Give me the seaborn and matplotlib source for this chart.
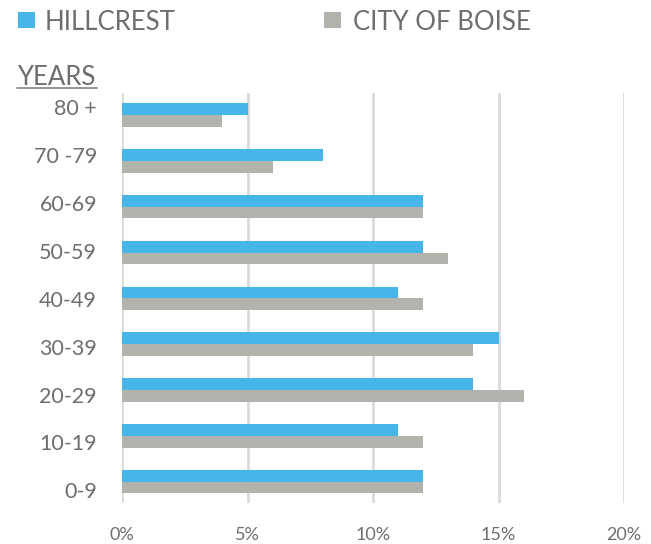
import matplotlib
matplotlib.use("Agg")
import matplotlib.pyplot as plt
import seaborn as sns
import pandas as pd
import numpy as np
from matplotlib.patches import Rectangle

categories = ["80 +", "70 -79", "60-69", "50-59", "40-49", "30-39", "20-29", "10-19", "0-9"]
hillcrest = [5, 8, 12, 12, 11, 15, 14, 11, 12]
boise = [4, 6, 12, 13, 12, 14, 16, 12, 12]
series = ["HILLCREST", "CITY OF BOISE"]
xticks = [0, 5, 10, 15, 20]
xticklabels = ["0%", "5%", "10%", "15%", "20%"]

BLUE = "#45B6E7"
GRAY = "#B3B3AE"
TEXT = "#6E6E6B"

df = pd.DataFrame({
    "age": categories * 2,
    "value": hillcrest + boise,
    "series": [series[0]] * len(categories) + [series[1]] * len(categories),
})

sns.set_style("white")
plt.rcParams["font.family"] = ["Lato", "DejaVu Sans"]

W, H = 651, 544
fig = plt.figure(figsize=(W / 100, H / 100), dpi=100)
ax = fig.add_axes([122 / W, 1 - 503 / H, (624 - 122) / W, (503 - 93) / H])

sns.barplot(data=df, y="age", x="value", hue="series", order=categories,
            hue_order=series, palette=[BLUE, GRAY], orient="h", width=0.51,
            saturation=1, ax=ax, legend=False, zorder=3, linewidth=0)

ax.set_xlim(0, 20)
ax.set_ylim(8.465, -0.48)
ax.set_xticks(xticks)
ax.set_xticklabels(xticklabels)
# tick labels sit on a slightly wider spacing than the bars
ax.set_yticks(-0.164 + 1.0437 * np.arange(len(categories)))
ax.set_yticklabels(categories)
ax.set_xlabel("")
ax.set_ylabel("")
for s in ax.spines.values():
    s.set_visible(False)
ax.grid(axis="x", color="#DADADA", linewidth=2, zorder=0)
ax.grid(axis="y", visible=False)
ax.tick_params(axis="x", length=0, pad=17.5, labelsize=13, labelcolor=TEXT)
ax.tick_params(axis="y", length=0, pad=18, labelsize=15.5, labelcolor=TEXT)

# Legend drawn at top
fig.patches.append(Rectangle((18 / W, 1 - 28 / H), 17 / W, 16 / H,
                             transform=fig.transFigure, color=BLUE, lw=0))
fig.text(45 / W, 1 - 20 / H, series[0], fontsize=18.5, color=TEXT, va="center_baseline", ha="left")
fig.patches.append(Rectangle((324 / W, 1 - 28 / H), 17 / W, 16 / H,
                             transform=fig.transFigure, color=GRAY, lw=0))
fig.text(353 / W, 1 - 20 / H, series[1], fontsize=18.5, color=TEXT, va="center_baseline", ha="left")

# Axis title
fig.text(17 / W, 1 - 75 / H, "YEARS", fontsize=18.5, color=TEXT, va="center_baseline", ha="left")
fig.add_artist(plt.Line2D([17 / W, 97 / W], [1 - 87.5 / H, 1 - 87.5 / H],
                          color="#8C8C8A", linewidth=1.3, transform=fig.transFigure))

fig.savefig("out.png", dpi=100)
